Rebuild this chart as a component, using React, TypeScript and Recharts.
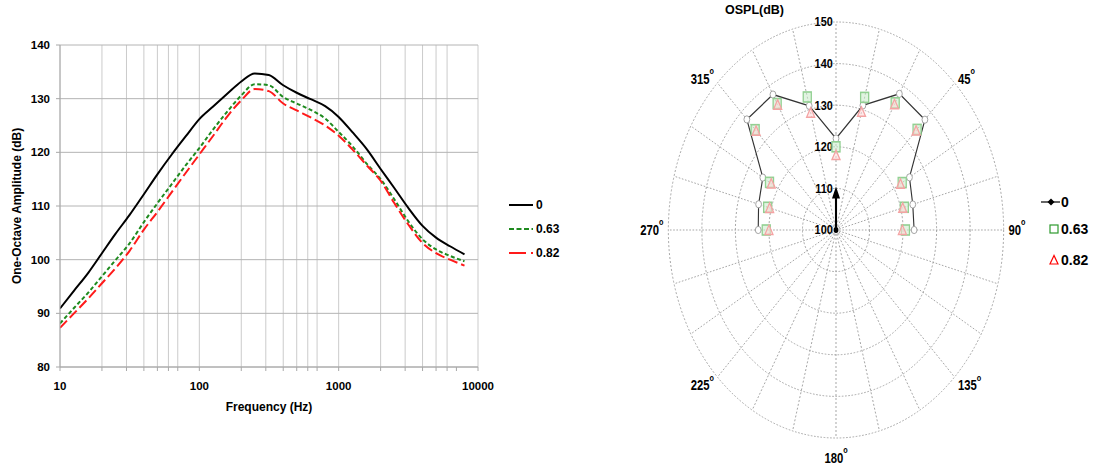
import React from 'react';
import {
  LineChart, Line, XAxis, YAxis, CartesianGrid, Legend,
  RadarChart, Radar, PolarGrid, PolarAngleAxis, PolarRadiusAxis,
} from 'recharts';

// left chart: one-octave spectrum
const freqs = [10, 12.5, 16, 20, 25, 31.5, 40, 50, 63, 80, 100, 125, 160, 200, 250, 315, 400, 500, 630, 800, 1000, 1250, 1600, 2000, 2500, 3150, 4000, 5000, 6300, 8000];
const amp0 = [90.9, 94.1, 97.6, 101.2, 104.8, 108.3, 112.2, 115.9, 119.5, 123.0, 126.2, 128.5, 131.0, 133.2, 134.7, 134.4, 132.5, 131.1, 129.9, 128.6, 126.6, 123.8, 120.5, 116.9, 113.4, 109.7, 106.3, 104.1, 102.5, 101.0];
const amp63 = [88.1, 90.9, 93.9, 96.9, 99.9, 103.0, 107.0, 110.5, 114.0, 117.6, 120.8, 124.2, 127.7, 130.6, 132.7, 132.5, 130.3, 129.1, 127.9, 126.3, 123.8, 121.2, 117.8, 115.0, 111.3, 107.2, 103.8, 101.9, 100.7, 99.7];
const amp82 = [87.3, 89.9, 92.8, 95.6, 98.4, 101.6, 105.6, 108.9, 112.5, 116.2, 119.6, 123.0, 126.8, 129.7, 131.8, 131.4, 129.1, 127.8, 126.5, 125.0, 123.1, 120.6, 117.5, 114.7, 110.6, 106.6, 103.1, 101.2, 100.0, 98.9];
const freqTicks = [10, 20, 30, 40, 50, 60, 70, 80, 90, 100, 200, 300, 400, 500, 600, 700, 800, 900, 1000, 2000, 3000, 4000, 5000, 6000, 7000, 8000, 9000, 10000];
const freqLabels = [10, 100, 1000, 10000];
const ampTicks = [80, 90, 100, 110, 120, 130, 140];

// right chart: OSPL directivity
const angles = [0, 15, 30, 45, 60, 75, 90, 105, 120, 135, 150, 165, 180, 195, 210, 225, 240, 255, 270, 285, 300, 315, 330, 345];
const ospl0 = [122, 131, 137.8, 137.5, 125.3, 123.7, 123.3, null, null, null, null, null, null, null, null, null, null, null, 123.2, 123.9, 125.2, 137.6, 137.6, 130.9];
const ospl63 = [120, 133, 135.3, 134.2, 122.8, 121.1, 120.7, null, null, null, null, null, null, null, null, null, null, null, 120.8, 121.1, 122.9, 134.1, 135.1, 133.1];
const ospl82 = [118, 129.4, 134.9, 133.8, 122.2, 120.6, 119.8, null, null, null, null, null, null, null, null, null, null, null, 120.0, 120.5, 122.3, 133.7, 134.8, 129.2];
const osplTicks = [100, 110, 120, 130, 140, 150];

const series = [
  { key: 'a0', name: '0', color: '#000000', dash: undefined, icon: undefined },
  { key: 'a63', name: '0.63', color: '#1e8a1e', dash: '4 2.5', icon: '5 2.5' },
  { key: 'a82', name: '0.82', color: '#ff1a1a', dash: '10 4', icon: '17 5' },
];

const spectrum = freqs.map((f, i) => ({ f, a0: amp0[i], a63: amp63[i], a82: amp82[i] }));
const polar = angles.map((angle, i) => ({ angle, s0: ospl0[i], s63: ospl63[i], s82: ospl82[i] }));

const FONT = '"Liberation Sans", Arial, sans-serif';

const SpectrumLegend = () => (
  <div style={{ fontFamily: FONT, fontWeight: 'bold', fontSize: 12 }}>
    {series.map((s) => (
      <div key={s.key} style={{ height: 24, display: 'flex', alignItems: 'center' }}>
        <svg width={25} height={8}>
          <line x1={0} y1={4} x2={24} y2={4} stroke={s.color} strokeWidth={2} strokeDasharray={s.icon} />
        </svg>
        <span style={{ marginLeft: 2 }}>{s.name}</span>
      </div>
    ))}
  </div>
);

// look up the data row value behind a radar point or dot, wherever recharts nests it
const rowValue = (obj: any, key: string): any => {
  if (!obj || typeof obj !== 'object') return undefined;
  if (key in obj) return obj[key];
  if (obj.payload) return rowValue(obj.payload, key);
  return undefined;
};
const present = (v: any) => v !== null && v !== undefined;

const makeDot = (key: string, kind: 'circle' | 'square' | 'triangle') => (p: any) => {
  const k = `${kind}${p.index}`;
  const ok = present(rowValue(p, key)) && Number.isFinite(p.cx) && Number.isFinite(p.cy);
  if (!ok) return <g key={k} />;
  if (kind === 'circle') {
    return <circle key={k} cx={p.cx} cy={p.cy} r={3.6} fill="#fff" stroke="#9a9a9a" strokeWidth={1} />;
  }
  if (kind === 'square') {
    return (
      <rect key={k} x={p.cx - 5} y={p.cy - 5} width={10} height={10}
        fill="rgba(200,235,200,0.55)" stroke="#92d092" strokeWidth={1.6} />
    );
  }
  return (
    <polygon key={k} points={`${p.cx},${p.cy - 5} ${p.cx - 5},${p.cy + 4.5} ${p.cx + 5},${p.cy + 4.5}`}
      fill="rgba(255,215,215,0.55)" stroke="#f4a3a3" strokeWidth={1.5} />
  );
};

// open line through the measured angles: wraps round 0 deg, leaves the gap where no data exists
const openLine = (key: string) => (props: any) => {
  const pts: any[] = props.points || [];
  const valid = pts.map((pt) => present(rowValue(pt, key)) && Number.isFinite(pt.x));
  const first = valid.indexOf(false);
  const last = valid.lastIndexOf(false);
  const seq = first < 0 ? pts : pts.slice(last + 1).concat(pts.slice(0, first));
  const d = seq.map((pt, i) => `${i === 0 ? 'M' : 'L'}${pt.x},${pt.y}`).join('') + (first < 0 ? 'Z' : '');
  return <path d={d} fill="none" stroke="#333" strokeWidth={1.4} />;
};

const AngleTick = (p: any) => {
  const v = Number(p.payload.value);
  if (v === 0 || v % 45 !== 0) return <g />;
  let dy = 0;
  let anchor = p.textAnchor;
  if (v === 180) { dy = 14; anchor = 'middle'; }
  if (v === 135 || v === 225) dy = 4;
  return (
    <text x={p.x} y={p.y + dy} textAnchor={anchor} dominantBaseline="central"
      fontFamily={FONT} fontWeight="bold" fontSize={14} fill="#000">
      {v}
      <tspan dy={-8} fontSize={9}>o</tspan>
    </text>
  );
};

const RadiusTick = (p: any) => {
  const v = Number(p.payload.value);
  return (
    <g>
      {v === 110 && Number.isFinite(p.cx) && (
        <g>
          <line x1={p.cx} y1={p.cy} x2={p.x} y2={p.y + 8} stroke="#000" strokeWidth={2.6} />
          <polygon points={`${p.x},${p.y - 2} ${p.x - 5},${p.y + 10} ${p.x + 5},${p.y + 10}`} fill="#000" />
        </g>
      )}
      {v === 100 && <circle cx={p.x} cy={p.y} r={3} fill="#000" />}
      <text x={p.x - 4} y={p.y} textAnchor="end" dominantBaseline="central"
        fontFamily={FONT} fontWeight="bold" fontSize={13.5} fill="#000">{v}</text>
    </g>
  );
};

const App: React.FC = () => (
  <div style={{ position: 'absolute', left: 0, top: 0, width: 1098, height: 467, background: '#fff', overflow: 'hidden' }}>
    <div style={{ position: 'absolute', left: 0, top: 0 }}>
      <LineChart width={590} height={440} data={spectrum} margin={{ top: 45, right: 112, left: 0, bottom: 23 }}>
        <CartesianGrid horizontal={false} stroke="#cbcbcb" />
        <CartesianGrid vertical={false} stroke="#b4b4b4" />
        <XAxis dataKey="f" type="number" scale="log" domain={[10, 10000]} ticks={freqTicks}
          allowDataOverflow height={50} tickSize={4} tickMargin={11} stroke="#a8a8a8"
          tick={{ fill: '#000', fontFamily: FONT, fontWeight: 'bold', fontSize: 11.5 }}
          tickFormatter={(v: number) => (freqLabels.includes(v) ? String(v) : '')}
          label={{ value: 'Frequency (Hz)', position: 'insideBottom', offset: 6, fill: '#000', fontFamily: FONT, fontWeight: 'bold', fontSize: 12 }} />
        <YAxis type="number" domain={[80, 140]} ticks={ampTicks} width={60} tickSize={4} tickMargin={6} stroke="#a8a8a8"
          tick={{ fill: '#000', fontFamily: FONT, fontWeight: 'bold', fontSize: 11.5 }}
          label={{ value: 'One-Octave Amplitude (dB)', angle: -90, position: 'insideLeft', offset: 17, fill: '#000', fontFamily: FONT, fontWeight: 'bold', fontSize: 12, style: { textAnchor: 'middle' } }} />
        <Legend layout="vertical" align="center" verticalAlign="middle" content={<SpectrumLegend />}
          wrapperStyle={{ left: 509, top: 193, width: 70 }} />
        {series.map((s) => (
          <Line key={s.key} dataKey={s.key} name={s.name} type="monotone" stroke={s.color} strokeWidth={2}
            strokeDasharray={s.dash} dot={false} isAnimationActive={false} />
        ))}
      </LineChart>
    </div>

    <div style={{ position: 'absolute', left: 725, top: 3, fontFamily: FONT, fontWeight: 'bold', fontSize: 12.5 }}>OSPL(dB)</div>

    <div style={{ position: 'absolute', left: 586, top: 0, width: 500, height: 467, transform: 'scaleX(0.806)', transformOrigin: '250px 230px' }}>
      <RadarChart width={500} height={467} data={polar} cx={250} cy={230} outerRadius={208} margin={{ top: 0, right: 0, bottom: 0, left: 0 }}>
        <PolarGrid gridType="circle" stroke="#9c9c9c" strokeDasharray="2 2" />
        <PolarAngleAxis dataKey="angle" tick={<AngleTick />} tickLine={false} axisLine={false} tickSize={6} />
        <PolarRadiusAxis angle={90} type="number" domain={[100, 150]} ticks={osplTicks as any} tickCount={6}
          axisLine={false} tick={<RadiusTick />} />
        <Radar dataKey="s0" name="0" stroke="#333" fill="none" fillOpacity={0}
          shape={openLine('s0')} dot={makeDot('s0', 'circle')} isAnimationActive={false} />
        <Radar dataKey="s63" name="0.63" stroke="none" fill="none" fillOpacity={0}
          dot={makeDot('s63', 'square')} isAnimationActive={false} />
        <Radar dataKey="s82" name="0.82" stroke="none" fill="none" fillOpacity={0}
          dot={makeDot('s82', 'triangle')} isAnimationActive={false} />
      </RadarChart>
    </div>

    <div style={{ position: 'absolute', left: 1041, top: 190, fontFamily: FONT, fontWeight: 'bold', fontSize: 14 }}>
      <div style={{ height: 23, display: 'flex', alignItems: 'center' }}>
        <svg width={20} height={10}>
          <line x1={0} y1={5} x2={19} y2={5} stroke="#000" strokeWidth={1.2} />
          <polygon points="10,1.5 13.5,5 10,8.5 6.5,5" fill="#000" />
        </svg>
        <span>0</span>
      </div>
      <div style={{ height: 31, display: 'flex', alignItems: 'center' }}>
        <svg width={20} height={12}>
          <rect x={9} y={2} width={8} height={8} fill="none" stroke="#2e9a2e" strokeWidth={1.2} />
        </svg>
        <span>0.63</span>
      </div>
      <div style={{ height: 31, display: 'flex', alignItems: 'center' }}>
        <svg width={20} height={12}>
          <polygon points="13,1.5 9,10 17,10" fill="none" stroke="#ff0000" strokeWidth={1.2} />
        </svg>
        <span>0.82</span>
      </div>
    </div>
  </div>
);

export default App;
